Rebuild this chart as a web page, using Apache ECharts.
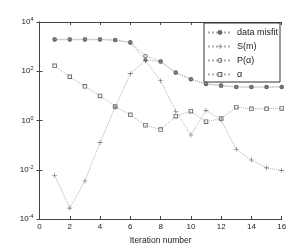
<!DOCTYPE html>
<html><head><meta charset="utf-8">
<script src="https://cdn.jsdelivr.net/npm/echarts@6/dist/echarts.min.js"></script>
<style>html,body{margin:0;padding:0;background:#fff}#c{width:291px;height:250px}</style>
</head><body><div id="c"></div>
<script>
const iterations = [1,2,3,4,5,6,7,8,9,10,11,12,13,14,15,16];
const dataMisfit = [1900,1900,1900,1900,1800,1450,280,250,87,48,30,27,23,23,23,23];
const sM = [0.006,0.00028,0.0035,0.13,3.5,80,270,41,2.4,0.26,2.6,1.05,0.068,0.025,0.012,0.0095];
const pAlpha = [2000,2000,2000,2000,1850,1500,420,250,90,48,31,26,23,23,23,23];
const alpha = [166,60,24.5,10,3.7,1.7,0.65,0.43,1.5,2.4,0.9,1.2,3.5,3.0,3.0,3.1];
const xTicks = [0,2,4,6,8,10,12,14,16];
const seriesNames = ['data misfit','S(m)','P(\u03b1)','\u03b1'];

const FONT = 'Liberation Sans, Arial, sans-serif';
const AX = '#444';
const MK = '#6a6a6a';
const plusPath = 'path://M4.4,0H5.6V4.4H10V5.6H5.6V10H4.4V5.6H0V4.4H4.4Z';
const ringPath = 'path://M5,0A5,5 0 1,1 5,10A5,5 0 1,1 5,0Z M5,2A3,3 0 1,0 5,8A3,3 0 1,0 5,2Z';
const boxPath = 'path://M0,0H10V10H0Z M2,2V8H8V2Z';
const dotPath = 'path://M5,0A5,5 0 1,1 5,10A5,5 0 1,1 5,0Z';
function pairs(v){ return iterations.map((x,i)=>[x,v[i]]); }
function mk(name, data, symbol, size, z){
  return {name, type:'line', data:pairs(data), symbol, symbolSize:size, z,
    lineStyle:{type:'dotted', width:1, color:'#b0b0b0'},
    itemStyle:{color:MK, borderWidth:0}};
}
const chart = echarts.init(document.getElementById('c'), null, {renderer:'canvas'});
const axisCommon = {axisLine:{show:true,lineStyle:{color:AX,width:1}},
  axisTick:{show:true,inside:true,length:3,lineStyle:{color:AX}}, splitLine:{show:false}};
chart.setOption({
  animation:false,
  backgroundColor:'#fff',
  textStyle:{fontFamily:FONT},
  grid:{left:39.5, right:9.3, top:22, bottom:25},
  legend:{
    data:seriesNames, orient:'vertical', left:204, top:23,
    padding:[5,2,3,3], itemGap:5, itemWidth:24, itemHeight:6,
    borderColor:'#333', borderWidth:1, backgroundColor:'#fff',
    textStyle:{fontSize:9, color:'#222', fontFamily:FONT}
  },
  xAxis:[
    Object.assign({type:'value', min:0, max:16, interval:2, position:'bottom',
      axisLabel:{fontSize:8, color:'#222', margin:4},
      name:'Iteration number', nameLocation:'middle', nameGap:15,
      nameTextStyle:{fontSize:8.5, color:'#222'}}, axisCommon),
    Object.assign({type:'value', min:0, max:16, interval:2, position:'top',
      axisLabel:{show:false}}, axisCommon)
  ],
  yAxis:[
    Object.assign({type:'log', logBase:10, min:1e-4, max:1e4, interval:2, position:'left',
      axisLabel:{fontSize:8, color:'#222', margin:6,
        formatter:function(v){ const e=Math.round(Math.log10(v)); return '10{s|'+e+'}'; },
        rich:{s:{fontSize:5.5, verticalAlign:'top', padding:[0,0,5,0], color:'#222'}}}}, axisCommon),
    Object.assign({type:'log', logBase:10, min:1e-4, max:1e4, interval:2, position:'right',
      axisLabel:{show:false}}, axisCommon)
  ],
  series:[
    mk(seriesNames[3], alpha, boxPath, 4.5, 2),
    mk(seriesNames[0], dataMisfit, dotPath, 4, 3),
    mk(seriesNames[1], sM, plusPath, 5, 4),
    mk(seriesNames[2], pAlpha, ringPath, 4.5, 5)
  ]
});
</script></body></html>
